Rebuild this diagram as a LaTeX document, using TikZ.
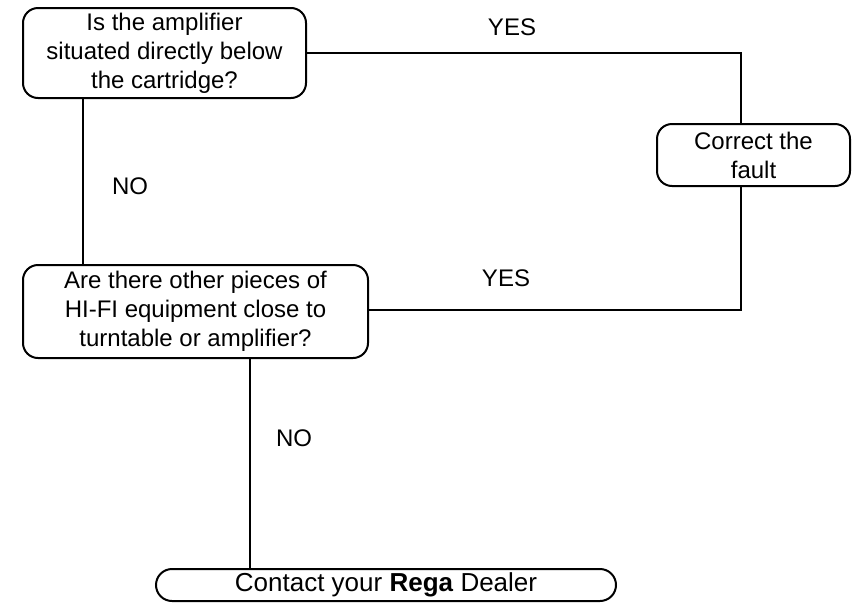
\documentclass[tikz,border=0pt]{standalone}
\usepackage{fontspec}
\setmainfont{Liberation Sans}
\begin{document}
\begin{tikzpicture}[x=1pt,y=-1pt,
  box/.style={draw,line width=2pt,rounded corners=15pt,inner sep=0pt,align=center,
    font=\fontsize{24}{29}\selectfont},
  lbl/.style={inner sep=0pt,font=\fontsize{24}{29}\selectfont},
  conn/.style={line width=2pt}]
\useasboundingbox (0,0) rectangle (859,603);
\node[box,minimum width=283pt,minimum height=90pt] (b1) at (164.5,53)
  {Is the amplifier\\situated directly below\\the cartridge?};
\node[box,minimum width=193pt,minimum height=62pt] (b2) at (753.5,155)
  {Correct the\\fault};
\node[box,minimum width=345pt,minimum height=93pt] (b3) at (195.5,311.5)
  {Are there other pieces of\\HI-FI equipment close to\\turntable or amplifier?};
\node[box,minimum width=460pt,minimum height=32pt,rounded corners=16pt,
  font=\fontsize{26}{30}\selectfont] (b4) at (386,585)
  {Contact your \textbf{Rega} Dealer};
\coordinate (c1) at (741,53);
\coordinate (c2) at (741,309.5);
\coordinate (c3) at (83,0);
\coordinate (c4) at (250,0);
\draw[conn] (b1.east) -- (c1) -- (c1 |- b2.north);
\draw[conn] (c1 |- b2.south) -- (c2) -- (b3.east |- c2);
\draw[conn] (c3 |- b1.south) -- (c3 |- b3.north);
\draw[conn] (c4 |- b3.south) -- (c4 |- b4.north);
\node[lbl] (y1) at (512,27) {YES};
\node[lbl] (n1) at (130,186) {NO};
\node[lbl] (y2) at (506,278) {YES};
\node[lbl] (n2) at (294,438) {NO};
\end{tikzpicture}
\end{document}
